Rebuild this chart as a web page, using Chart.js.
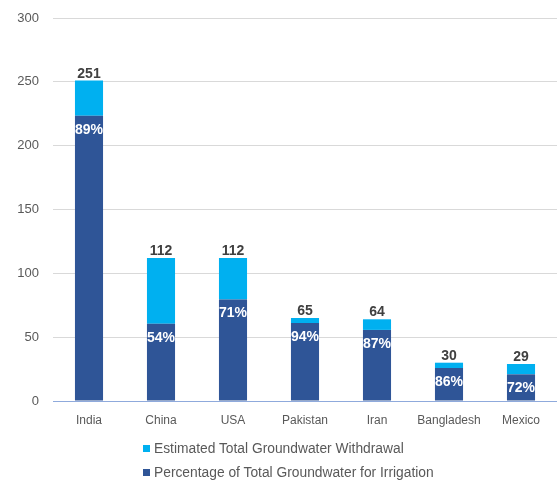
<!DOCTYPE html>
<html>
<head>
<meta charset="utf-8">
<script src="https://cdn.jsdelivr.net/npm/chart.js@4"></script>
<style>
  body { margin: 0; background: #fff; font-family: "Liberation Sans", Arial, sans-serif; }
  #wrap { position: relative; width: 557px; height: 481px; }
  #legend { position: absolute; left: 143px; top: 440px; font-size: 13.8px; color: #595959; }
  #legend div { height: 24px; line-height: 18px; white-space: nowrap; }
  #legend span.box { display: inline-block; width: 7px; height: 7px; margin-right: 4px; vertical-align: 1px; }
</style>
</head>
<body>
<div id="wrap">
  <canvas id="gwChart" width="557" height="481"></canvas>
  <div id="legend"></div>
</div>
<script>
// Groundwater data
const countries = ['India', 'China', 'USA', 'Pakistan', 'Iran', 'Bangladesh', 'Mexico'];
const totalWithdrawal = [251, 112, 112, 65, 64, 30, 29];
const irrigationPct = [89, 54, 71, 94, 87, 86, 72];
const yTicks = [0, 50, 100, 150, 200, 250, 300];

const lightBlue = '#00B0F0';
const darkBlue = '#2F5597';

// split each bar into irrigation part and the rest
const irrigationPart = totalWithdrawal.map((t, i) => t * irrigationPct[i] / 100);
const restPart = totalWithdrawal.map((t, i) => t - irrigationPart[i]);

// labels on bars: total above, percent inside dark part
const barLabels = {
    id: 'barLabels',
    afterDatasetsDraw(chart) {
        const c = chart.ctx;
        const darkMeta = chart.getDatasetMeta(0);
        const lightMeta = chart.getDatasetMeta(1);
        c.save();
        c.font = 'bold 14px "Liberation Sans", Arial, sans-serif';
        c.textAlign = 'center';
        lightMeta.data.forEach((bar, i) => {
            c.fillStyle = '#404040';
            c.textBaseline = 'alphabetic';
            c.fillText(totalWithdrawal[i], bar.x, bar.y - 3);
        });
        darkMeta.data.forEach((bar, i) => {
            c.fillStyle = '#ffffff';
            c.textBaseline = 'top';
            c.fillText(irrigationPct[i] + '%', bar.x, bar.y + 7);
        });
        c.restore();
    }
};

const ctx = document.getElementById('gwChart').getContext('2d');
const gwChart = new Chart(ctx, {
    type: 'bar',
    data: {
        labels: countries,
        datasets: [{
            label: 'Percentage of Total Groundwater for Irrigation',
            data: irrigationPart,
            backgroundColor: darkBlue,
            barPercentage: 0.39,
            categoryPercentage: 1
        }, {
            label: 'Estimated Total Groundwater Withdrawal',
            data: restPart,
            backgroundColor: lightBlue,
            barPercentage: 0.39,
            categoryPercentage: 1
        }]
    },
    options: {
        responsive: false,
        animation: false,
        layout: {
            padding: { top: 0, right: 0, bottom: 50, left: 0 }
        },
        plugins: {
            legend: { display: false },
            tooltip: { enabled: false }
        },
        scales: {
            x: {
                stacked: true,
                grid: { display: false },
                border: { color: '#8FAADC', width: 1 },
                ticks: {
                    color: '#595959',
                    font: { family: '"Liberation Sans", Arial, sans-serif', size: 12 },
                    padding: 4
                },
                afterFit(scale) { scale.height = 30; }
            },
            y: {
                stacked: true,
                min: 0,
                max: 300,
                afterBuildTicks(scale) {
                    scale.ticks = yTicks.map(v => ({ value: v }));
                },
                grid: { color: '#D9D9D9', drawTicks: false },
                border: { display: false },
                ticks: {
                    color: '#595959',
                    font: { family: '"Liberation Sans", Arial, sans-serif', size: 13 },
                    padding: 14
                },
                afterFit(scale) {
                    scale.width = 53;
                    scale.paddingTop = 18;
                }
            }
        }
    },
    plugins: [barLabels]
});

// legend, light series first like the original
const legendEl = document.getElementById('legend');
[[lightBlue, 'Estimated Total Groundwater Withdrawal'],
 [darkBlue, 'Percentage of Total Groundwater for Irrigation']].forEach(([col, text]) => {
    const row = document.createElement('div');
    row.innerHTML = '<span class="box" style="background:' + col + '"></span>' + text;
    legendEl.appendChild(row);
});
</script>
</body>
</html>
